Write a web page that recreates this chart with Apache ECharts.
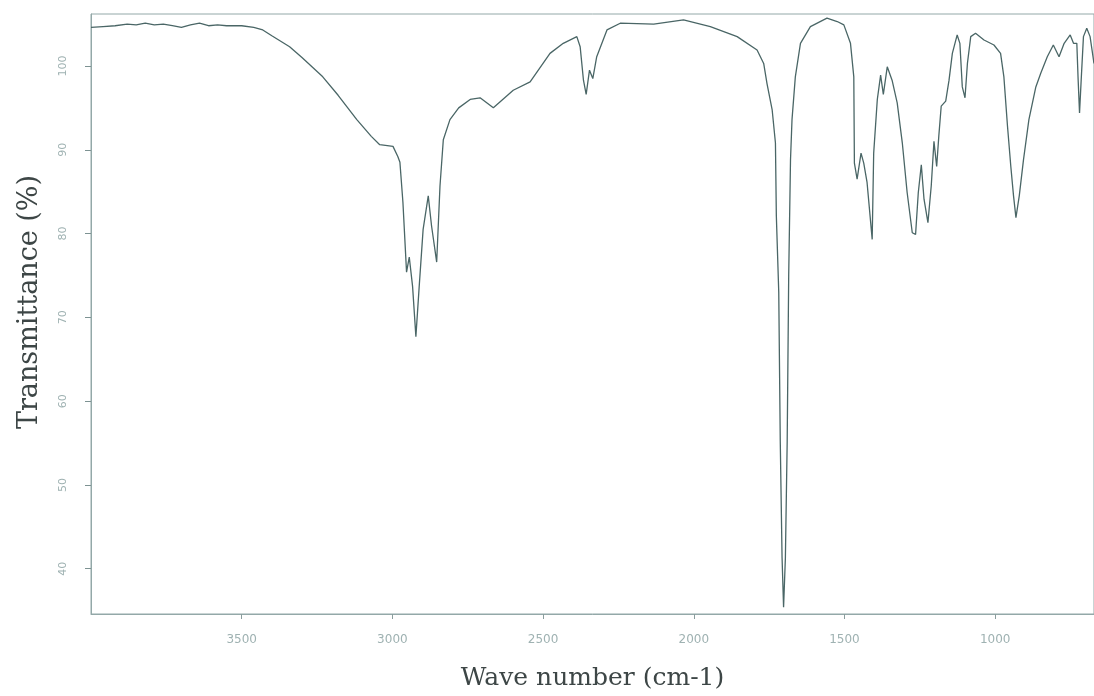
<!DOCTYPE html>
<html>
<head>
<meta charset="utf-8">
<script src="https://cdn.jsdelivr.net/npm/echarts@6/dist/echarts.min.js"></script>
<style>
  html, body { margin: 0; padding: 0; background: #ffffff; }
  #chart { width: 1094px; height: 696px; }
</style>
</head>
<body>
<div id="chart"></div>
<script>
// FTIR spectrum: wave number (cm-1) vs transmittance (%)
const waveNumbers = [
  4000, 3960, 3920, 3880, 3850, 3820, 3790, 3760, 3730, 3700,
  3670, 3640, 3610, 3580, 3550, 3500, 3460, 3430, 3400, 3341,
  3300, 3231, 3180, 3118, 3070, 3042, 2998, 2982, 2975, 2965,
  2953, 2944, 2933, 2922, 2911, 2898, 2881, 2870, 2853, 2842,
  2831, 2809, 2780, 2742, 2709, 2665, 2599, 2543, 2477, 2433,
  2388, 2377, 2366, 2357, 2346, 2335, 2322, 2288, 2244, 2133,
  2034, 1945, 1856, 1790, 1768, 1757, 1740, 1729, 1726, 1718,
  1713, 1707, 1702, 1696, 1690, 1685, 1679, 1674, 1663, 1646,
  1613, 1558, 1524, 1502, 1480, 1469, 1467, 1458, 1445, 1436,
  1425, 1408, 1403, 1391, 1380, 1371, 1358, 1342, 1325, 1308,
  1292, 1275, 1264, 1255, 1245, 1236, 1223, 1212, 1203, 1194,
  1187, 1179, 1164, 1153, 1142, 1126, 1117, 1109, 1100, 1092,
  1081, 1065, 1037, 1004, 982, 971, 959, 948, 939, 931,
  920, 906, 888, 865, 849, 827, 807, 788, 771, 751,
  740, 729, 725, 720, 714, 707, 696, 685, 672
];
const transmittance = [
  104.6, 104.7, 104.8, 105.0, 104.9, 105.1, 104.9, 105.0, 104.8, 104.6,
  104.9, 105.1, 104.8, 104.9, 104.8, 104.8, 104.6, 104.3, 103.6, 102.3,
  101.0, 98.7, 96.5, 93.6, 91.6, 90.6, 90.4, 89.2, 88.5, 83.7,
  75.4, 77.2, 73.7, 67.7, 73.7, 80.5, 84.5, 80.9, 76.6, 85.7,
  91.2, 93.6, 95.0, 96.0, 96.2, 95.0, 97.1, 98.1, 101.5, 102.7,
  103.5, 102.3, 98.3, 96.6, 99.5, 98.5, 101.1, 104.3, 105.1, 105.0,
  105.5, 104.7, 103.5, 101.9, 100.3, 97.9, 94.8, 90.8, 82.1, 73.0,
  55.2, 41.3, 35.4, 41.3, 55.2, 75.0, 88.8, 93.6, 98.7, 102.7,
  104.7, 105.7, 105.3, 104.9, 102.7, 98.7, 88.4, 86.5, 89.6, 88.4,
  86.1, 79.3, 89.6, 96.0, 98.9, 96.6, 99.9, 98.3, 95.6, 90.8,
  84.9, 80.1, 79.9, 84.9, 88.2, 84.1, 81.3, 85.7, 91.0, 88.0,
  91.6, 95.2, 95.8, 98.3, 101.5, 103.7, 102.7, 97.5, 96.2, 100.3,
  103.5, 103.9, 103.1, 102.5, 101.5, 98.7, 92.8, 88.0, 84.5, 81.9,
  84.5, 88.8, 93.6, 97.5, 99.1, 101.1, 102.5, 101.1, 102.7, 103.7,
  102.7, 102.7, 98.7, 94.4, 98.7, 103.5, 104.5, 103.5, 100.3
];
const xTicks = [3500, 3000, 2500, 2000, 1500, 1000];
const yTicks = [40, 50, 60, 70, 80, 90, 100];

const points = waveNumbers.map((w, i) => [w, transmittance[i]]);

const axisGrey = '#93a8a8';
const labelGrey = '#9fb2b2';
const titleFont = 'DejaVu Serif';

const chart = echarts.init(document.getElementById('chart'), null, { renderer: 'canvas' });
chart.setOption({
  animation: false,
  backgroundColor: '#ffffff',
  grid: {
    left: 91, right: 0, top: 14, bottom: 79,
    show: true, borderColor: axisGrey, borderWidth: 1, backgroundColor: 'transparent'
  },
  xAxis: {
    type: 'value',
    inverse: true,
    min: 672,
    max: 4000,
    name: 'Wave number (cm-1)',
    nameLocation: 'middle',
    nameGap: 52,
    nameTextStyle: { fontFamily: titleFont, fontSize: 25, color: '#3d4646' },
    splitLine: { show: false },
    axisLine: { show: true, lineStyle: { color: axisGrey, width: 1 } },
    axisTick: { show: true, length: 5, customValues: xTicks, lineStyle: { color: '#8a9d9d' } },
    axisLabel: {
      customValues: xTicks, margin: 20, fontSize: 12, color: labelGrey, fontFamily: 'DejaVu Sans',
      formatter: v => String(v)
    }
  },
  yAxis: {
    type: 'value',
    min: 34.6,
    max: 106.2,
    name: 'Transmittance (%)',
    nameLocation: 'middle',
    nameGap: 48,
    nameTextStyle: { fontFamily: titleFont, fontSize: 27, color: '#3d4646', padding: [0, 0, 0, 24] },
    splitLine: { show: false },
    axisLine: { show: true, lineStyle: { color: axisGrey, width: 1 } },
    axisTick: { show: true, length: 6, customValues: yTicks, lineStyle: { color: '#7d9292' } },
    axisLabel: {
      customValues: yTicks, rotate: 90, margin: 22, fontSize: 11, color: labelGrey, fontFamily: 'DejaVu Sans',
      formatter: v => String(v)
    }
  },
  series: [{
    type: 'line',
    data: points,
    showSymbol: false,
    symbol: 'none',
    smooth: false,
    lineStyle: { color: '#4a6666', width: 1.3 }
  }]
});
</script>
</body>
</html>
